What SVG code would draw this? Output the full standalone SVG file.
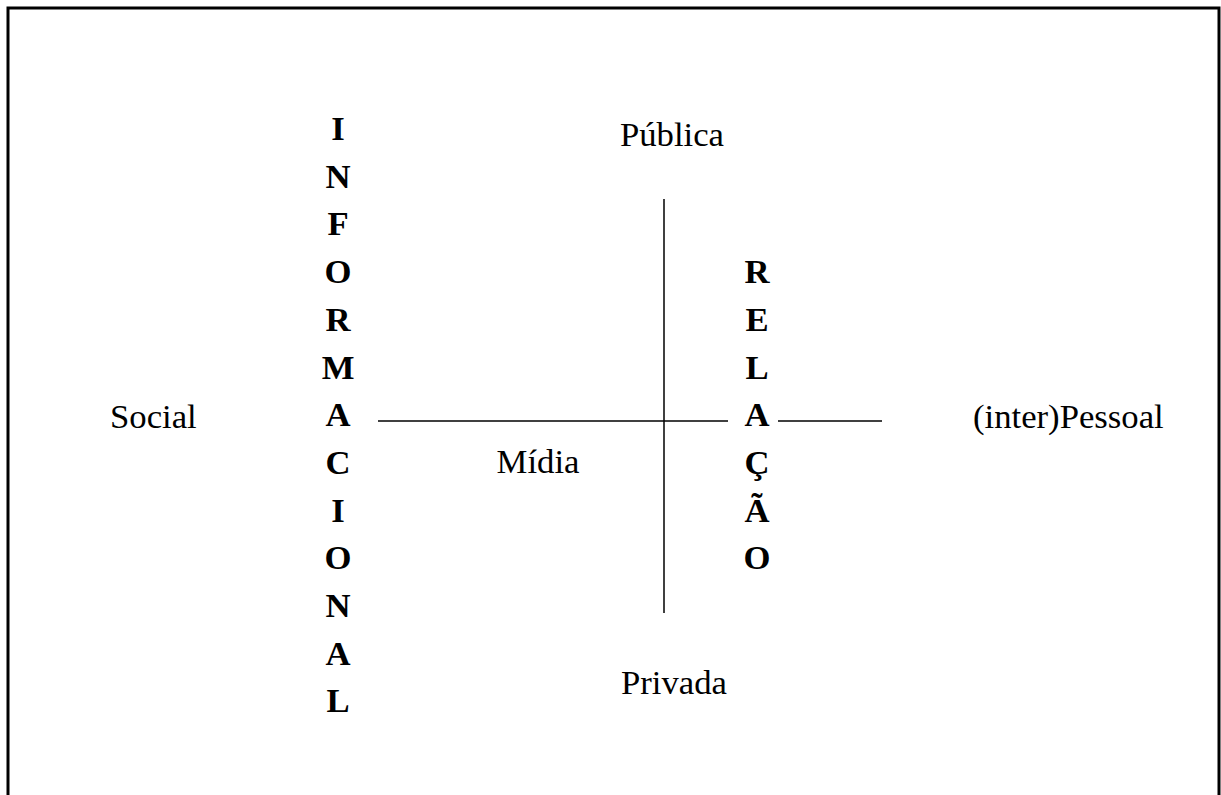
<svg xmlns="http://www.w3.org/2000/svg" width="1221" height="795" viewBox="0 0 1221 795">
<style>
.t{font-family:"Liberation Serif","Times New Roman",serif;font-size:34.7px;fill:#000}
.b{font-family:"Liberation Serif","Times New Roman",serif;font-size:34.7px;font-weight:bold;fill:#000;text-anchor:middle}
.ln{stroke:#000;stroke-width:1.5;fill:none}
</style>
<rect x="8" y="8" width="1211" height="900" fill="#fff" stroke="#000" stroke-width="3"/>
<g id="connectors">
<line class="ln" x1="378" y1="421" x2="728" y2="421"/>
<line class="ln" x1="778" y1="421" x2="882" y2="421"/>
<line class="ln" x1="664" y1="199" x2="664" y2="613"/>
</g>
<g id="publica"><text class="t" x="672" y="146" text-anchor="middle">Pública</text></g>
<g id="privada"><text class="t" x="674" y="694" text-anchor="middle">Privada</text></g>
<g id="social"><text class="t" x="110" y="428">Social</text></g>
<g id="interpessoal"><text class="t" x="973" y="428">(inter)Pessoal</text></g>
<g id="midia"><text class="t" x="538" y="473" text-anchor="middle">Mídia</text></g>
<g id="informacional">
<text class="b" x="338" y="140">I</text>
<text class="b" x="338" y="187.7">N</text>
<text class="b" x="338" y="235.4">F</text>
<text class="b" x="338" y="283.1">O</text>
<text class="b" x="338" y="330.8">R</text>
<text class="b" x="338" y="378.5">M</text>
<text class="b" x="338" y="426.2">A</text>
<text class="b" x="338" y="473.9">C</text>
<text class="b" x="338" y="521.6">I</text>
<text class="b" x="338" y="569.3">O</text>
<text class="b" x="338" y="617">N</text>
<text class="b" x="338" y="664.7">A</text>
<text class="b" x="338" y="712.4">L</text>
</g>
<g id="relacao">
<text class="b" x="757" y="283.1">R</text>
<text class="b" x="757" y="330.8">E</text>
<text class="b" x="757" y="378.5">L</text>
<text class="b" x="757" y="426.2">A</text>
<text class="b" x="757" y="473.9">Ç</text>
<text class="b" x="757" y="521.6">Ã</text>
<text class="b" x="757" y="569.3">O</text>
</g>
</svg>
